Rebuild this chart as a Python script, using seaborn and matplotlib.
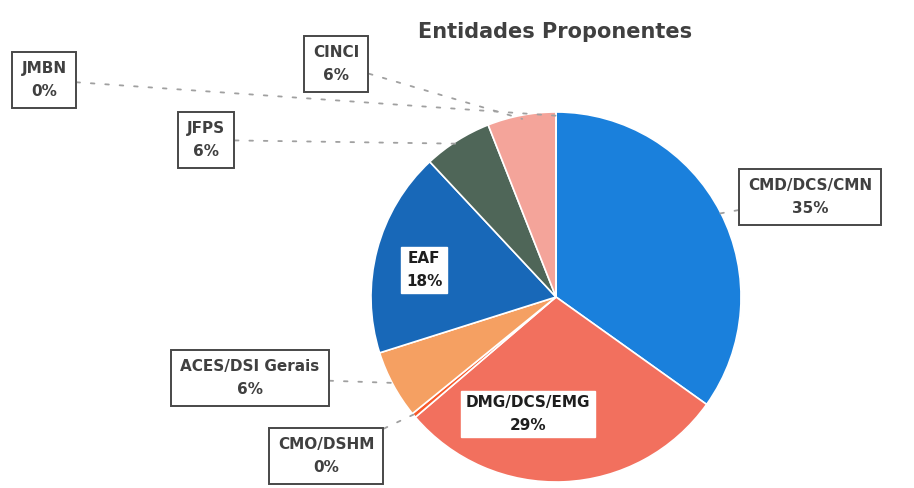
import numpy as np
import matplotlib
matplotlib.use("Agg")
import matplotlib.pyplot as plt
import seaborn as sns

# Proposing entities and their share of proposals (%), clockwise from 12 o'clock
entities = ["CMD/DCS/CMN", "DMG/DCS/EMG", "CMO/DSHM", "ACES/DSI Gerais",
            "EAF", "JFPS", "CINCI", "JMBN"]
shares = [35, 29, 0.4, 6, 18, 6, 6, 0.0]
pct_labels = ["35%", "29%", "0%", "6%", "18%", "6%", "6%", "0%"]
colors = ["#1a80dc", "#f2705e", "#f75a2a", "#f5a062",
          "#1868b8", "#4f6658", "#f4a49a", "#f4a49a"]

sns.set_theme(style="white")
plt.rcParams["font.family"] = ["DejaVu Sans"]

W, H = 914, 488
fig = plt.figure(figsize=(W / 100, H / 100), dpi=100)
ax = fig.add_axes([0, 0, 1, 1])
ax.set_xlim(0, W)
ax.set_ylim(0, H)
ax.set_aspect("equal")
ax.axis("off")

cx, cy, r = 556, H - 297, 185
wedges, _ = ax.pie(shares, colors=colors, startangle=90, counterclock=False,
                   center=(cx, cy), radius=r,
                   wedgeprops=dict(edgecolor="white", linewidth=1.2))
ax.set_xlim(0, W)
ax.set_ylim(0, H)

# label positions (x, y from top) and whether the label sits inside the wedge
label_pos = {
    "CMD/DCS/CMN": (810, 197, False),
    "DMG/DCS/EMG": (528, 414, True),
    "CMO/DSHM": (326, 456, False),
    "ACES/DSI Gerais": (250, 378, False),
    "EAF": (424, 270, True),
    "JFPS": (206, 140, False),
    "CINCI": (336, 64, False),
    "JMBN": (44, 80, False),
}

for w, name, pct in zip(wedges, entities, pct_labels):
    lx, ly, inside = label_pos[name]
    ly = H - ly
    mid = np.deg2rad((w.theta1 + w.theta2) / 2)
    ex, ey = cx + r * 0.98 * np.cos(mid), cy + r * 0.98 * np.sin(mid)
    if inside:
        box = dict(boxstyle="square,pad=0.3", fc="white", ec="white", lw=1.0)
        ax.text(lx, ly, f"{name}\n{pct}", ha="center", va="center",
                fontsize=11, color="#1e1e1e", linespacing=1.6,
                fontweight="bold", bbox=box)
    else:
        box = dict(boxstyle="square,pad=0.6", fc="white", ec="#484848", lw=1.4)
        ax.annotate(f"{name}\n{pct}", xy=(ex, ey), xytext=(lx, ly),
                    ha="center", va="center", fontsize=11, color="#404040",
                    linespacing=1.6, fontweight="bold", bbox=box,
                    arrowprops=dict(arrowstyle="-", color="#a0a0a0", lw=1.3,
                                    linestyle=(0, (2, 6)), shrinkA=0, shrinkB=0))

ax.text(555, H - 32, "Entidades Proponentes", ha="center", va="center",
        fontsize=15, fontweight="bold", color="#404040")

fig.savefig("out.png", dpi=100)
